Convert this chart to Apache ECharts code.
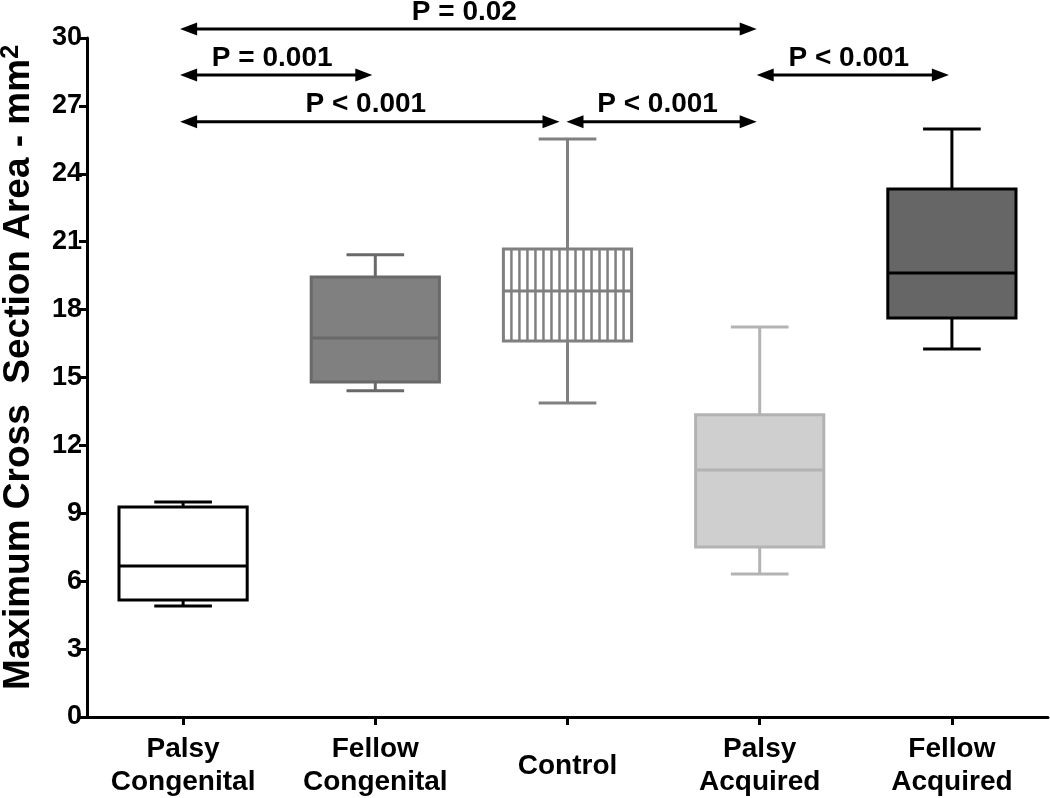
<!DOCTYPE html>
<html><head><meta charset="utf-8">
<script src="https://cdn.jsdelivr.net/npm/echarts@6/dist/echarts.min.js"></script>
<style>html,body{margin:0;padding:0;background:#fff}#c{width:1050px;height:798px}</style>
</head><body><div id="c"></div>
<script>
// ---- data ----
const categories = ['Palsy\nCongenital', 'Fellow\nCongenital', 'Control', 'Palsy\nAcquired', 'Fellow\nAcquired'];
const whiskerMin = [4.90, 14.41, 13.87, 6.32, 16.26];
const quartile1  = [5.17, 14.80, 16.61, 7.51, 17.63];
const median     = [6.67, 16.75, 18.82, 10.91, 19.62];
const quartile3  = [9.28, 19.44, 20.68, 13.35, 23.33];
const whiskerMax = [9.50, 20.42, 25.54, 17.23, 25.98];
const yMin = 0, yMax = 30, yStep = 3;
// comparisons (category index from, to, level on y scale, label)
const compFrom  = [0, 0, 0, 2, 3];
const compTo    = [3, 1, 2, 3, 4];
const compLevel = [30.4, 28.37, 26.3, 26.3, 28.37];
const compLabel = ['P = 0.02', 'P = 0.001', 'P < 0.001', 'P < 0.001', 'P < 0.001'];

// ---- styles ----
const boxFill   = ['#ffffff', '#808080', '#ffffff', '#cfcfcf', '#666666'];
const boxStroke = ['#000000', '#696969', '#808080', '#b3b3b3', '#000000'];
const boxHatch  = [false, false, true, false, false];
const FONT = '"Liberation Sans", Arial, sans-serif';

const boxData = categories.map((c, i) => [i, whiskerMin[i], quartile1[i], median[i], quartile3[i], whiskerMax[i]]);
const compData = compFrom.map((f, i) => [f, compTo[i], compLevel[i], i]);

function renderBox(params, api) {
  const i = api.value(0);
  const band = api.size([1, 0])[0];
  const bw = band * 0.667, cw = band * 0.3;
  const pMin = api.coord([i, api.value(1)]);
  const pQ1 = api.coord([i, api.value(2)]);
  const pMed = api.coord([i, api.value(3)]);
  const pQ3 = api.coord([i, api.value(4)]);
  const pMax = api.coord([i, api.value(5)]);
  const cx = pMed[0];
  const stroke = boxStroke[i], fill = boxFill[i];
  const lw = 3;
  const st = { stroke: stroke, lineWidth: lw };
  const ch = [];
  ch.push({ type: 'line', shape: { x1: cx, y1: pQ3[1], x2: cx, y2: pMax[1] }, style: st });
  ch.push({ type: 'line', shape: { x1: cx - cw / 2, y1: pMax[1], x2: cx + cw / 2, y2: pMax[1] }, style: st });
  ch.push({ type: 'line', shape: { x1: cx, y1: pQ1[1], x2: cx, y2: pMin[1] }, style: st });
  ch.push({ type: 'line', shape: { x1: cx - cw / 2, y1: pMin[1], x2: cx + cw / 2, y2: pMin[1] }, style: st });
  ch.push({ type: 'rect', shape: { x: cx - bw / 2, y: pQ3[1], width: bw, height: pQ1[1] - pQ3[1] }, style: { fill: fill, stroke: stroke, lineWidth: lw } });
  if (boxHatch[i]) {
    const n = 15;
    for (let k = 1; k <= n; k++) {
      const x = cx - bw / 2 + k * bw / (n + 1);
      ch.push({ type: 'line', shape: { x1: x, y1: pQ3[1], x2: x, y2: pQ1[1] }, style: { stroke: stroke, lineWidth: 2.5 } });
    }
  }
  ch.push({ type: 'line', shape: { x1: cx - bw / 2, y1: pMed[1], x2: cx + bw / 2, y2: pMed[1] }, style: st });
  return { type: 'group', children: ch };
}

function renderComp(params, api) {
  const idx = api.value(3);
  const a = api.coord([api.value(0), api.value(2)]);
  const b = api.coord([api.value(1), api.value(2)]);
  let x0 = a[0] - 3, x1 = b[0] - 3;
  // where two arrows meet at the same category and level, leave a small gap
  for (let j = 0; j < compFrom.length; j++) {
    if (j === idx || compLevel[j] !== compLevel[idx]) continue;
    if (compFrom[j] === compTo[idx]) x1 = b[0] - 8;
    if (compTo[j] === compFrom[idx]) x0 = a[0] - 1;
  }
  const y = a[1];
  const hl = 17, hh = 6.5;
  const ch = [
    { type: 'line', shape: { x1: x0 + hl - 3, y1: y, x2: x1 - hl + 3, y2: y }, style: { stroke: '#000', lineWidth: 3 } },
    { type: 'polygon', shape: { points: [[x0, y], [x0 + hl, y - hh], [x0 + hl, y + hh]] }, style: { fill: '#000' } },
    { type: 'polygon', shape: { points: [[x1, y], [x1 - hl, y - hh], [x1 - hl, y + hh]] }, style: { fill: '#000' } },
    { type: 'text', style: { x: (x0 + x1) / 2 - 4, y: y - 17, text: compLabel[idx], fill: '#000',
        font: 'bold 28px ' + FONT, align: 'center', verticalAlign: 'middle' } }
  ];
  return { type: 'group', children: ch };
}

const chart = echarts.init(document.getElementById('c'), null, { renderer: 'canvas' });
chart.setOption({
  animation: false,
  backgroundColor: '#ffffff',
  grid: { left: 87, right: 2, top: 38, bottom: 81, containLabel: false, outerBoundsMode: 'none' },
  xAxis: {
    type: 'category',
    data: categories,
    boundaryGap: true,
    axisLine: { show: true, lineStyle: { color: '#000', width: 3 } },
    axisTick: { show: true, alignWithLabel: true, length: 8, lineStyle: { color: '#000', width: 3 } },
    axisLabel: { color: '#000', fontFamily: FONT, fontWeight: 'bold', fontSize: 28, lineHeight: 33,
      margin: 49, verticalAlign: 'middle', interval: 0 },
    splitLine: { show: false }
  },
  yAxis: {
    type: 'value',
    min: yMin, max: yMax, interval: yStep,
    axisLine: { show: true, lineStyle: { color: '#000', width: 3 } },
    axisTick: { show: true, length: 8, lineStyle: { color: '#000', width: 3 } },
    axisLabel: { color: '#000', fontFamily: FONT, fontWeight: 'bold', fontSize: 27, margin: 5 },
    splitLine: { show: false },
    name: '{a|Maximum Cross  Section Area - mm}{s|2}',
    nameLocation: 'middle',
    nameGap: 48,
    nameTextStyle: {
      color: '#000',
      padding: [0, 0, 0, 20],
      rich: {
        a: { fontFamily: FONT, fontWeight: 'bold', fontSize: 37, lineHeight: 40, color: '#000' },
        s: { fontFamily: FONT, fontWeight: 'bold', fontSize: 25, lineHeight: 24, verticalAlign: 'top', color: '#000' }
      }
    }
  },
  series: [
    { type: 'custom', name: 'boxes', data: boxData, renderItem: renderBox, encode: { x: 0, y: [1, 2, 3, 4, 5] }, clip: false, z: 3 },
    { type: 'custom', name: 'comparisons', data: compData, renderItem: renderComp, encode: { x: [0, 1], y: 2 }, clip: false, z: 4 }
  ]
});
</script>
</body></html>
